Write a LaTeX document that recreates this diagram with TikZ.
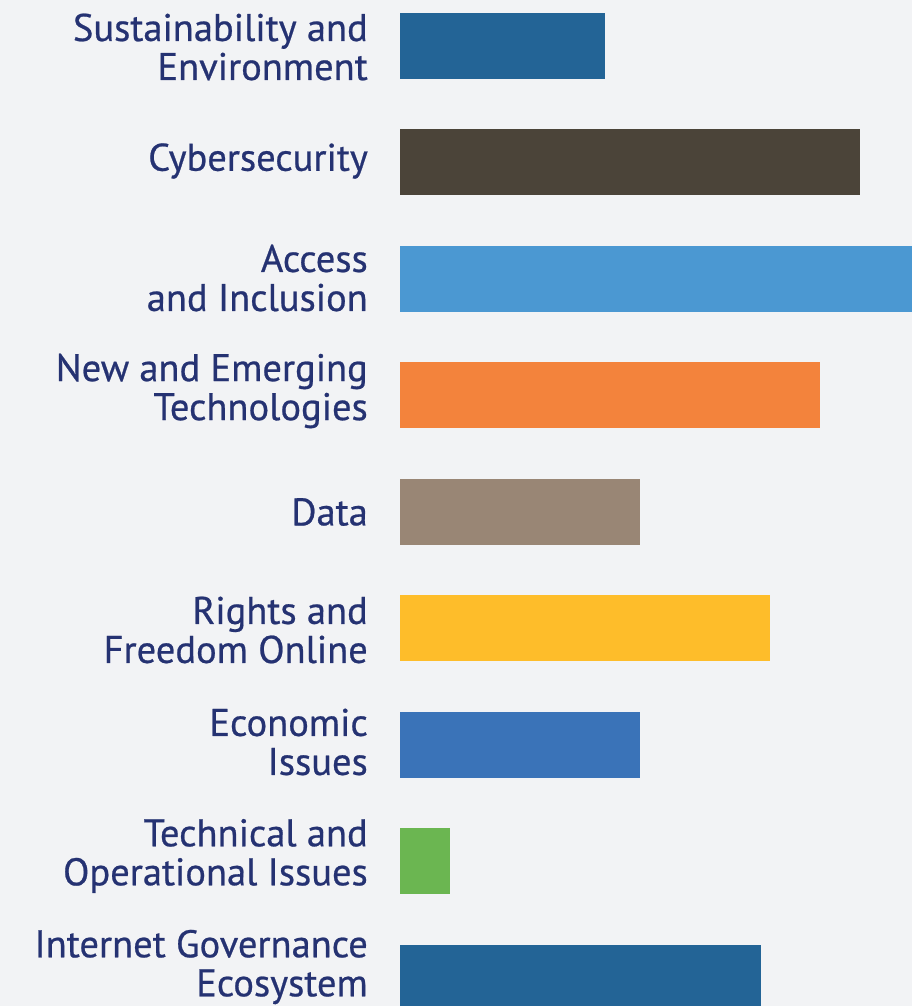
\documentclass[tikz,border=0pt]{standalone}
\usepackage{fontspec}
\setmainfont[FakeBold=0.6]{PT Sans}
\definecolor{bg}{HTML}{F2F3F5}
\definecolor{txt}{HTML}{253272}
\definecolor{cA}{HTML}{236496}
\definecolor{cB}{HTML}{4B4439}
\definecolor{cC}{HTML}{4B98D2}
\definecolor{cD}{HTML}{F3833C}
\definecolor{cE}{HTML}{998675}
\definecolor{cF}{HTML}{FEBD2A}
\definecolor{cG}{HTML}{3A73B8}
\definecolor{cH}{HTML}{6BB651}
\begin{document}
\begin{tikzpicture}[x=1pt,y=-1pt,
  lab/.style={anchor=east,align=right,inner sep=0pt,text=txt,font=\fontsize{38.5}{39}\selectfont}]
\fill[bg] (0,0) rectangle (912,1006);
\useasboundingbox (0,0) rectangle (912,1006);
\foreach \i/\top/\right/\col in {1/13/605/cA,2/129/860/cB,3/246/912/cC,4/362/820/cD,5/479/640/cE,6/595/770/cF,7/712/640/cG,8/828/450/cH,9/945/761/cA}{
  \fill[\col] (400,\top) rectangle (\right,\top+66);
}
\node[lab] (l1) at (368,47) {Sustainability and\\Environment};
\node[lab] (l2) at (368,161) {Cybersecurity};
\node[lab] (l3) at (368,278) {Access\\and Inclusion};
\node[lab] (l4) at (368,391) {New and Emerging\\Technologies};
\node[lab] (l5) at (368,512) {Data};
\node[lab] (l6) at (368,630) {Rights and\\Freedom Online};
\node[lab] (l7) at (368,742) {Economic\\Issues};
\node[lab] (l8) at (368,856) {Technical and\\Operational Issues};
\node[lab] (l9) at (368,967) {Internet Governance\\Ecosystem};
\end{tikzpicture}
\end{document}
